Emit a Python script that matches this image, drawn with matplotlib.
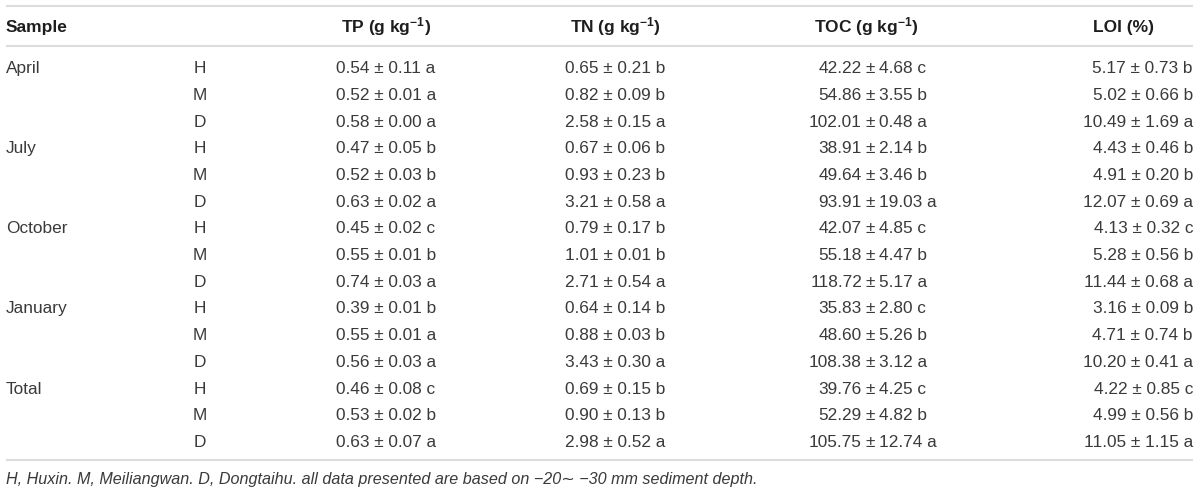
import matplotlib
matplotlib.use("Agg")
import matplotlib.pyplot as plt

# ---------------- data ----------------
months = ["April", "July", "October", "January", "Total"]
sites = ["H", "M", "D"]

tp_mean = [0.54, 0.52, 0.58, 0.47, 0.52, 0.63, 0.45, 0.55, 0.74, 0.39, 0.55, 0.56, 0.46, 0.53, 0.63]
tp_sd = [0.11, 0.01, 0.00, 0.05, 0.03, 0.02, 0.02, 0.01, 0.03, 0.01, 0.01, 0.03, 0.08, 0.02, 0.07]
tp_let = ["a", "a", "a", "b", "b", "a", "c", "b", "a", "b", "a", "a", "c", "b", "a"]

tn_mean = [0.65, 0.82, 2.58, 0.67, 0.93, 3.21, 0.79, 1.01, 2.71, 0.64, 0.88, 3.43, 0.69, 0.90, 2.98]
tn_sd = [0.21, 0.09, 0.15, 0.06, 0.23, 0.58, 0.17, 0.01, 0.54, 0.14, 0.03, 0.30, 0.15, 0.13, 0.52]
tn_let = ["b", "b", "a", "b", "b", "a", "b", "b", "a", "b", "b", "a", "b", "b", "a"]

toc_mean = [42.22, 54.86, 102.01, 38.91, 49.64, 93.91, 42.07, 55.18, 118.72, 35.83, 48.60, 108.38, 39.76, 52.29, 105.75]
toc_sd = [4.68, 3.55, 0.48, 2.14, 3.46, 19.03, 4.85, 4.47, 5.17, 2.80, 5.26, 3.12, 4.25, 4.82, 12.74]
toc_let = ["c", "b", "a", "b", "b", "a", "c", "b", "a", "c", "b", "a", "c", "b", "a"]

loi_mean = [5.17, 5.02, 10.49, 4.43, 4.91, 12.07, 4.13, 5.28, 11.44, 3.16, 4.71, 10.20, 4.22, 4.99, 11.05]
loi_sd = [0.73, 0.66, 1.69, 0.46, 0.20, 0.69, 0.32, 0.56, 0.68, 0.09, 0.74, 0.41, 0.85, 0.56, 1.15]
loi_let = ["b", "b", "a", "b", "b", "a", "c", "b", "a", "b", "b", "a", "c", "b", "a"]

headers = ["Sample", r"TP (g kg$^{\mathbf{-1}}$)", r"TN (g kg$^{\mathbf{-1}}$)",
           r"TOC (g kg$^{\mathbf{-1}}$)", "LOI (%)"]
footnote = ("H, Huxin. M, Meiliangwan. D, Dongtaihu. all data presented are based on "
            "\u221220\u223c \u221230 mm sediment depth.")

# ---------------- style ----------------
plt.rcParams['font.family'] = ['Liberation Sans', 'DejaVu Sans']
plt.rcParams['mathtext.fontset'] = 'custom'
plt.rcParams['mathtext.rm'] = 'Liberation Sans'
plt.rcParams['mathtext.bf'] = 'Liberation Sans:bold'
plt.rcParams['mathtext.it'] = 'Liberation Sans:italic'

W, H = 1200, 491
fig = plt.figure(figsize=(W / 100, H / 100), dpi=100)
ax = fig.add_axes([0, 0, 1, 1])
ax.set_xlim(0, W)
ax.set_ylim(H, 0)
ax.axis('off')

body_c = '#3a3a3a'
head_c = '#1e1e1e'
line_c = '#dcdcdc'
fs = 12.4
fs_head = 12.5
cap = 6.2  # half cap height in px -> baseline offset

x_left, x_right = 6, 1193
for y in (6, 46, 460):
    ax.plot([x_left, x_right], [y, y], color=line_c, lw=1.5, solid_capstyle='butt')

# header
yh = 26
ax.text(x_left, yh + cap, headers[0], fontsize=fs_head, fontweight='bold', color=head_c,
        ha='left', va='baseline')
ax.text(386, yh + cap, headers[1], fontsize=fs_head, fontweight='bold', color=head_c,
        ha='center', va='baseline')
ax.text(615, yh + cap, headers[2], fontsize=fs_head, fontweight='bold', color=head_c,
        ha='center', va='baseline')
ax.text(866, yh + cap, headers[3], fontsize=fs_head, fontweight='bold', color=head_c,
        ha='center', va='baseline')
ax.text(1093, yh + cap, headers[4], fontsize=fs_head, fontweight='bold', color=head_c,
        ha='left', va='baseline')

row0, dy = 67, 26.7
x_site = 200
x_tp, x_tn, x_toc_pm, x_loi = 386, 615, 870, 1193
gap_l, gap_r = 8, 9

for i in range(len(tp_mean)):
    y = row0 + i * dy + cap
    if i % 3 == 0:
        ax.text(x_left, y, months[i // 3], fontsize=fs, color=body_c, ha='left', va='baseline')
    ax.text(x_site, y, sites[i % 3], fontsize=fs, color=body_c, ha='center', va='baseline')
    ax.text(x_tp, y, f"{tp_mean[i]:.2f} \u00b1 {tp_sd[i]:.2f} {tp_let[i]}", fontsize=fs,
            color=body_c, ha='center', va='baseline')
    ax.text(x_tn, y, f"{tn_mean[i]:.2f} \u00b1 {tn_sd[i]:.2f} {tn_let[i]}", fontsize=fs,
            color=body_c, ha='center', va='baseline')
    # TOC aligned on the plus-minus sign
    ax.text(x_toc_pm, y, "\u00b1", fontsize=fs, color=body_c, ha='center', va='baseline')
    ax.text(x_toc_pm - gap_l, y, f"{toc_mean[i]:.2f}", fontsize=fs, color=body_c,
            ha='right', va='baseline')
    ax.text(x_toc_pm + gap_r, y, f"{toc_sd[i]:.2f} {toc_let[i]}", fontsize=fs, color=body_c,
            ha='left', va='baseline')
    ax.text(x_loi, y, f"{loi_mean[i]:.2f} \u00b1 {loi_sd[i]:.2f} {loi_let[i]}", fontsize=fs,
            color=body_c, ha='right', va='baseline')

ax.text(x_left, 478 + cap, footnote, fontsize=11.6, style='italic', color=body_c,
        ha='left', va='baseline')

fig.savefig("out.png", dpi=100, facecolor='white')
